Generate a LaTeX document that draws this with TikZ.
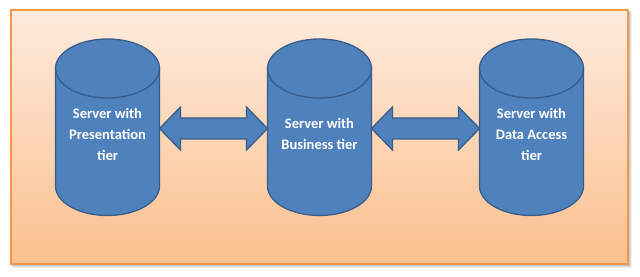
\documentclass[tikz,border=0pt]{standalone}
\usepackage{fontspec}
\setmainfont{Carlito}
\usetikzlibrary{calc}
\definecolor{cylfill}{RGB}{79,129,189}
\definecolor{cylline}{RGB}{56,93,138}
\definecolor{bgtop}{RGB}{253,235,221}
\definecolor{bgbot}{RGB}{251,192,142}
\definecolor{bgline}{RGB}{247,150,70}
\tikzset{
  cylbody/.style={fill=cylfill,draw=cylline,line width=1.3pt,line join=round},
  arrowbody/.style={fill=cylfill,draw=cylline,line width=1.3pt,line join=miter},
  label/.style={text=white,font=\fontsize{14.5}{21}\selectfont\bfseries,align=center,inner sep=0pt},
}
\newcommand\cylshape[1]{%
  \draw[cylbody] (#1-52,207.5) -- (#1-52,90)
    arc[start angle=180,end angle=360,x radius=52,y radius=29.5]
    -- (#1+52,207.5)
    arc[start angle=0,end angle=180,x radius=52,y radius=29.5] -- cycle;
  \draw[cylbody,fill=none] (#1-52,207.5)
    arc[start angle=180,end angle=360,x radius=52,y radius=29.5];
}
\newcommand\dblarrow[2]{%
  \draw[arrowbody] let \p1=(#1), \p2=(#2) in
    (\x1,\y1) -- (\x1+21pt,\y1+21.5pt) -- (\x1+21pt,\y1+10.5pt)
    -- (\x2-21pt,\y1+10.5pt) -- (\x2-21pt,\y1+21.5pt) -- (\x2,\y2)
    -- (\x2-21pt,\y1-21.5pt) -- (\x2-21pt,\y1-10.5pt)
    -- (\x1+21pt,\y1-10.5pt) -- (\x1+21pt,\y1-21.5pt) -- cycle;
}
\begin{document}
\begin{tikzpicture}[x=1pt,y=1pt]
\useasboundingbox (0,0) rectangle (640,276);
% soft shadow and background panel
\fill[black,opacity=0.06] (12,8.5) rectangle (631.5,265);
\fill[black,opacity=0.08] (12,9.5) rectangle (630.5,265);
\fill[black,opacity=0.10] (12,10.5) rectangle (629.5,265);
\shade[top color=bgtop,bottom color=bgbot] (11,12) rectangle (628,266);
\draw[bgline,line width=1.2pt] (11,12) rectangle (628,266);
% cylinders
\cylshape{107.5}
\cylshape{319.5}
\cylshape{531.5}
% connector end points
\coordinate (c1r) at (159.5,147.5);
\coordinate (c2l) at (267.5,147.5);
\coordinate (c2r) at (371.5,147.5);
\coordinate (c3l) at (479.5,147.5);
\dblarrow{c1r}{c2l}
\dblarrow{c2r}{c3l}
% labels
\node[label] (t1) at (107.5,142) {Server with\\Presentation\\tier};
\node[label] (t2) at (319.5,142) {Server with\\Business tier};
\node[label] (t3) at (531.5,142) {Server with\\Data Access\\tier};
\end{tikzpicture}
\end{document}
